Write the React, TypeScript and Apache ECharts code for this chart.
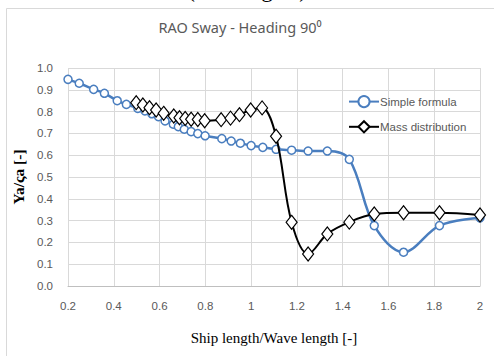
import React, { useEffect, useRef } from "react";
import * as echarts from "echarts";

const simpleFormula: [number, number][] = [
  [0.2, 0.948], [0.249, 0.93], [0.312, 0.902], [0.359, 0.884], [0.415, 0.85],
  [0.455, 0.833], [0.505, 0.815], [0.536, 0.803], [0.566, 0.79], [0.595, 0.777],
  [0.624, 0.757], [0.66, 0.742], [0.682, 0.731], [0.708, 0.719], [0.738, 0.708],
  [0.767, 0.699], [0.799, 0.689], [0.872, 0.676], [0.913, 0.665], [0.953, 0.655],
  [1.0, 0.644], [1.051, 0.636], [1.109, 0.627], [1.177, 0.623], [1.249, 0.619],
  [1.333, 0.619], [1.429, 0.581], [1.538, 0.277], [1.666, 0.155], [1.823, 0.277],
  [2.0, 0.313],
];

const massDistribution: [number, number][] = [
  [0.498, 0.841], [0.527, 0.83], [0.556, 0.818], [0.585, 0.807], [0.618, 0.792],
  [0.662, 0.78], [0.687, 0.772], [0.712, 0.768], [0.738, 0.765], [0.767, 0.764],
  [0.797, 0.758], [0.869, 0.763], [0.91, 0.77], [0.949, 0.786], [0.998, 0.807],
  [1.048, 0.817], [1.109, 0.687], [1.177, 0.292], [1.249, 0.147], [1.333, 0.239],
  [1.429, 0.293], [1.538, 0.33], [1.666, 0.336], [1.823, 0.336], [2.0, 0.326],
];

const seriesNames = ["Simple formula", "Mass distribution"];
const chartTitle = "RAO Sway - Heading 90⁰";
const topCaption = "(Heading 0°)";
const xName = "Ship length/Wave length [-]";
const yName = "Ya/ςa [-]";

const narrow = "'Liberation Sans Narrow', 'Liberation Sans', sans-serif";
const serif = "'Liberation Serif', 'DejaVu Serif', serif";

export default function App() {
  const ref = useRef<HTMLDivElement>(null);
  useEffect(() => {
    if (!ref.current) return;
    const chart = echarts.init(ref.current, null, { renderer: "svg" });
    chart.setOption({
      animation: false,
      backgroundColor: "#ffffff",
      graphic: [
        {
          type: "text",
          x: 247,
          y: 1,
          style: {
            text: topCaption,
            font: `23px ${serif}`,
            fill: "#000",
            textAlign: "center",
            textVerticalAlign: "bottom",
          },
          z: 10,
        },
        {
          type: "rect",
          shape: { x: 6.5, y: 8.5, width: 500, height: 360 },
          style: { fill: "none", stroke: "#d9d9d9", lineWidth: 1 },
          silent: true,
        },
        {
          type: "text",
          x: 240,
          y: 27,
          style: {
            text: chartTitle,
            font: `14.5px 'Noto Sans', sans-serif`,
            fill: "#595959",
            textAlign: "center",
            textVerticalAlign: "middle",
          },
        },
      ],
      grid: { left: 68, right: 14, top: 68, bottom: 70, containLabel: false },
      legend: {
        orient: "vertical",
        left: 343,
        top: 90,
        itemWidth: 30,
        itemHeight: 14,
        itemGap: 12,
        textStyle: { color: "#595959", fontSize: 11.5, fontFamily: narrow, padding: [0, 0, 0, -4] },
        data: seriesNames,
      },
      xAxis: {
        type: "value",
        min: 0.2,
        max: 2,
        interval: 0.2,
        name: xName,
        nameLocation: "middle",
        nameGap: 44,
        nameTextStyle: { color: "#000", fontSize: 15, fontFamily: serif },
        axisLine: { show: true, lineStyle: { color: "#bfbfbf" } },
        axisTick: { show: false },
        axisLabel: {
          color: "#595959",
          fontSize: 11.5,
          fontFamily: narrow,
          margin: 14,
          formatter: (v: number) => {
            const r = Math.round(v * 10) / 10;
            return Number.isInteger(r) ? String(r) : r.toFixed(1);
          },
        },
        splitLine: { show: true, lineStyle: { color: "#d9d9d9" } },
      },
      yAxis: {
        type: "value",
        min: 0,
        max: 1,
        interval: 0.1,
        name: yName,
        nameLocation: "middle",
        nameGap: 38,
        nameTextStyle: { color: "#000", fontSize: 15.5, fontFamily: serif, fontWeight: "bold" },
        axisLine: { show: false },
        axisTick: { show: false },
        axisLabel: {
          color: "#595959",
          fontSize: 11.5,
          fontFamily: narrow,
          margin: 15,
          formatter: (v: number) => v.toFixed(1),
        },
        splitLine: { show: true, lineStyle: { color: "#d9d9d9" } },
      },
      series: [
        {
          name: seriesNames[0],
          type: "line",
          data: simpleFormula,
          smooth: 0.35,
          symbol: "circle",
          symbolSize: 8,
          lineStyle: { color: "#4a7ebf", width: 2.5 },
          itemStyle: { color: "#ffffff", borderColor: "#4a7ebf", borderWidth: 1.5 },
          z: 2,
        },
        {
          name: seriesNames[1],
          type: "line",
          data: massDistribution,
          smooth: 0.35,
          symbol: "diamond",
          symbolSize: [11, 14],
          lineStyle: { color: "#000000", width: 2 },
          itemStyle: { color: "#ffffff", borderColor: "#000000", borderWidth: 1.2 },
          z: 3,
        },
      ],
    });
    return () => chart.dispose();
  }, []);
  return (
    <div
      ref={ref}
      style={{ position: "absolute", left: 0, top: 0, width: 494, height: 356 }}
    />
  );
}
